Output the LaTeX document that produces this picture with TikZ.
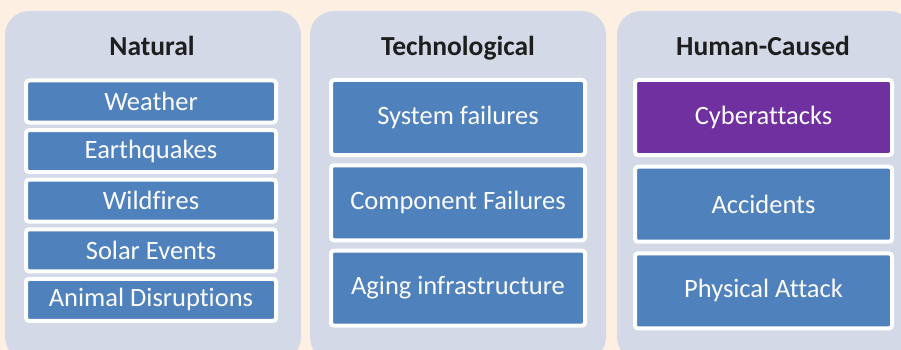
\documentclass[tikz,border=0pt]{standalone}
\usepackage{fontspec}
\setmainfont{Carlito}[Ligatures=NoCommon]
\usetikzlibrary{positioning}
\definecolor{hzBg}{HTML}{FDF0E2}
\definecolor{hzPanel}{HTML}{D3D9E7}
\definecolor{hzBlue}{HTML}{4F81BD}
\definecolor{hzPurple}{HTML}{7030A0}
\definecolor{hzInk}{HTML}{1E1E1E}
\tikzset{
  panel/.style={rectangle,rounded corners=24pt,fill=hzPanel,
    minimum width=296pt,minimum height=350pt,
    inner sep=0pt,outer sep=0pt},
  head/.style={anchor=base,inner sep=0pt,
    font=\fontsize{27.5}{31}\selectfont\bfseries,text=hzInk},
  catbox/.style={rectangle,rounded corners=3pt,
    inner sep=0pt,outer sep=0pt,
    draw=white,line width=4pt,fill=hzBlue,
    font=\fontsize{26.5}{30}\selectfont,text=white!95!hzPanel},
  nbox/.style={catbox,minimum width=250pt,minimum height=42pt},
  tbox/.style={catbox,minimum width=254pt,minimum height=75pt},
  hbox/.style={catbox,minimum width=257pt,minimum height=75pt},
  cybox/.style={hbox,fill=hzPurple},
}

\begin{document}
\begin{tikzpicture}[x=1pt,y=-1pt,node distance=7.6pt]
  \useasboundingbox (0,0) rectangle (901,350);
  \clip (0,0) rectangle (901,350);
  \fill[hzBg] (0,0) rectangle (901,350);

  % three category panels
  \node[panel] (natP) at (153,186) {};
  \node[panel] (tecP) at (458,186) {};
  \node[panel] (humP) at (765,186) {};

  \node[head] (natT) at (152,56) {Natural};
  \node[head] (tecT) at (458,56) {Technological};
  \node[head] (humT) at (763,56) {Human-Caused};

  % natural hazards
  \node[nbox] (weather) at (151,101.5) {Weather};
  \node[nbox,below=of weather] (quake) {Earthquakes};
  \node[nbox,below=of quake] (fire) {Wildfires};
  \node[nbox,below=of fire] (solar) {Solar Events};
  \node[nbox,below=of solar] (animal) {Animal Disruptions};

  % technological hazards
  \node[tbox] (sysfail) at (458,117.5) {System failures};
  \node[tbox,below=10.3pt of sysfail] (compfail) {Component Failures};
  \node[tbox,below=10.3pt of compfail] (aging) {Aging infrastructure};

  % human-caused hazards
  \node[cybox] (cyber) at (763.5,117.5) {Cyberattacks};
  \node[hbox,below=11.7pt of cyber] (accid) {Accidents};
  \node[hbox,below=11.7pt of accid] (physatk) {Physical Attack};
\end{tikzpicture}
\end{document}
